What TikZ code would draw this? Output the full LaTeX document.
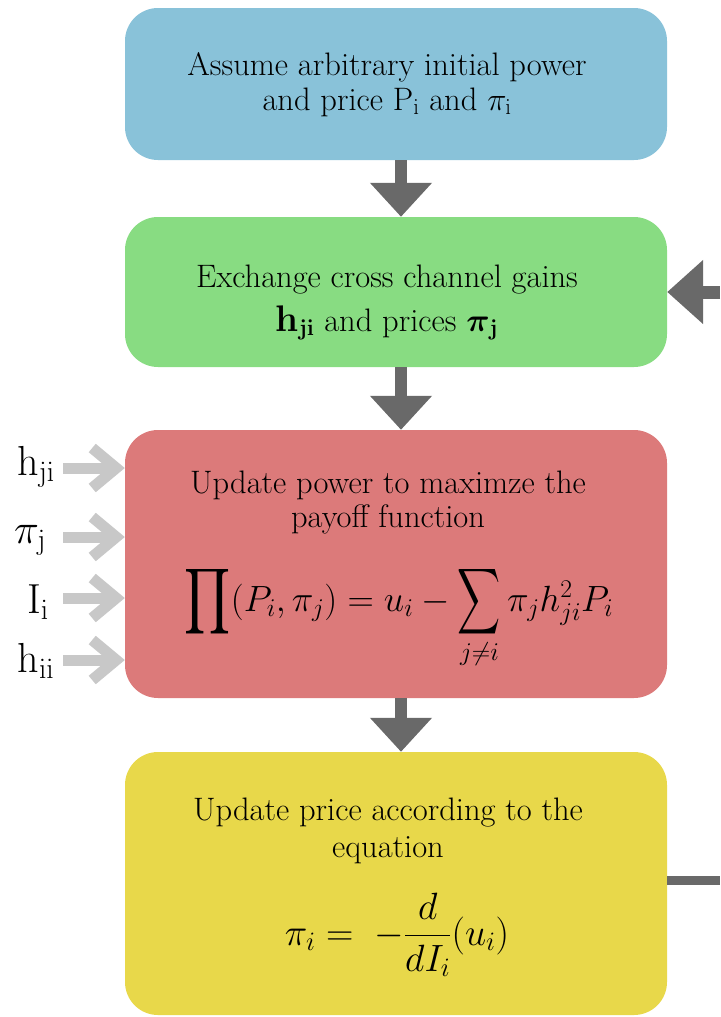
\RequirePackage{fix-cm}
\documentclass[tikz,border=0pt]{standalone}
\usepackage{amsmath}
\usepackage{graphicx}
\usetikzlibrary{arrows.meta}
\definecolor{cblue}{RGB}{137,194,217}
\definecolor{cgreen}{RGB}{136,220,130}
\definecolor{cred}{RGB}{220,122,122}
\definecolor{cyellow}{RGB}{232,216,74}
\definecolor{darr}{RGB}{105,105,105}
\definecolor{larr}{RGB}{200,200,200}
\newcommand{\bigopp}[3]{\mathop{\vcenter{\hbox{\scalebox{#1}[#2]{$\displaystyle#3$}}}}}
\tikzset{
 box/.style={rounded corners=33pt, minimum width=542pt, inner sep=0pt, draw=none},
 txt/.style={anchor=base, inner sep=0pt, font=\fontsize{32.5}{35}\selectfont},
 mth/.style={anchor=base, inner sep=0pt, font=\fontsize{36.5}{40}\selectfont},
 lbl/.style={anchor=base, inner sep=0pt, font=\fontsize{42}{44}\selectfont},
 flow/.style={draw=darr, line width=12pt, -{Triangle[length=34pt,width=60pt]}},
 feed/.style={draw=darr, line width=13pt, -{Triangle[length=36pt,width=62pt]}},
 inarr/.style={draw=larr, line width=11pt, -{Straight Barb[length=24pt,width=40pt,line cap=butt,line join=miter]}},
}
\begin{document}
\begin{tikzpicture}[x=1pt,y=-1pt]
\useasboundingbox (0,0) rectangle (720,1017);
% boxes
\node[box, fill=cblue, minimum height=152pt] (blue) at (396,84) {};
\node[box, fill=cgreen, minimum height=150pt] (green) at (396,292) {};
\node[box, fill=cred, minimum height=268pt] (red) at (396,564) {};
\node[box, fill=cyellow, minimum height=263pt] (yellow) at (396,883.5) {};
% texts
\node[txt] (t1a) at (387,75) {Assume arbitrary initial power};
\node[txt] (t1b) at (387,110) {and price P$_{\mathrm{i}}$ and $\pi_{\mathrm{i}}$};
\node[txt] (t2a) at (387,287) {Exchange cross channel gains};
\node[txt] (t2b) at (387,331) {{\fontsize{37}{37}\selectfont\textbf{h}}$_{\mathbf{ji}}$ and prices $\boldsymbol{\pi}_{\mathbf{j}}$};
\node[txt] (t3a) at (388,493) {Update power to maximze the};
\node[txt] (t3b) at (388,527) {payoff function};
\node[mth] (f3) at (399,611) {$\bigopp{1.45}{1.85}{\prod}(P_i,\pi_j)=u_i-\bigopp{1.2}{1.85}{\sum}\limits_{j\neq i}\pi_j h_{ji}^2P_i$};
\node[txt] (t4a) at (388,820) {Update price according to the};
\node[txt] (t4b) at (388,857) {equation};
\node[mth, font=\fontsize{38}{42}\selectfont] (f4) at (397,945) {$\displaystyle \pi_i=\;-\frac{d}{dI_i}(u_i)$};
% left labels
\node[lbl] (hji) at (36,475) {h$_{\mathrm{ji}}$};
\node[lbl] (pij) at (30,543) {$\pi_{\mathrm{j}}$};
\node[lbl] (Ii) at (38,613) {I$_{\mathrm{i}}$};
\node[lbl] (hii) at (36,672) {h$_{\mathrm{ii}}$};
\coordinate (s1) at (63,468);
\coordinate (s2) at (63,537);
\coordinate (s3) at (63,598);
\coordinate (s4) at (63,660);
\draw[inarr] (s1) -- (red.west |- s1);
\draw[inarr] (s2) -- (red.west |- s2);
\draw[inarr] (s3) -- (red.west |- s3);
\draw[inarr] (s4) -- (red.west |- s4);
% main flow
\draw[flow] ([xshift=5pt]blue.south) -- ([xshift=5pt]green.north);
\draw[flow] ([xshift=5pt]green.south) -- ([xshift=5pt]red.north);
\draw[flow] ([xshift=5pt]red.south) -- ([xshift=5pt]yellow.north);
% feedback
\coordinate (fb) at (720,292);
\draw[feed] (fb) -- (green.east);
\coordinate (yl) at (720,880);
\draw[draw=darr, line width=9pt] (yellow.east |- yl) -- (yl);
\end{tikzpicture}
\end{document}
